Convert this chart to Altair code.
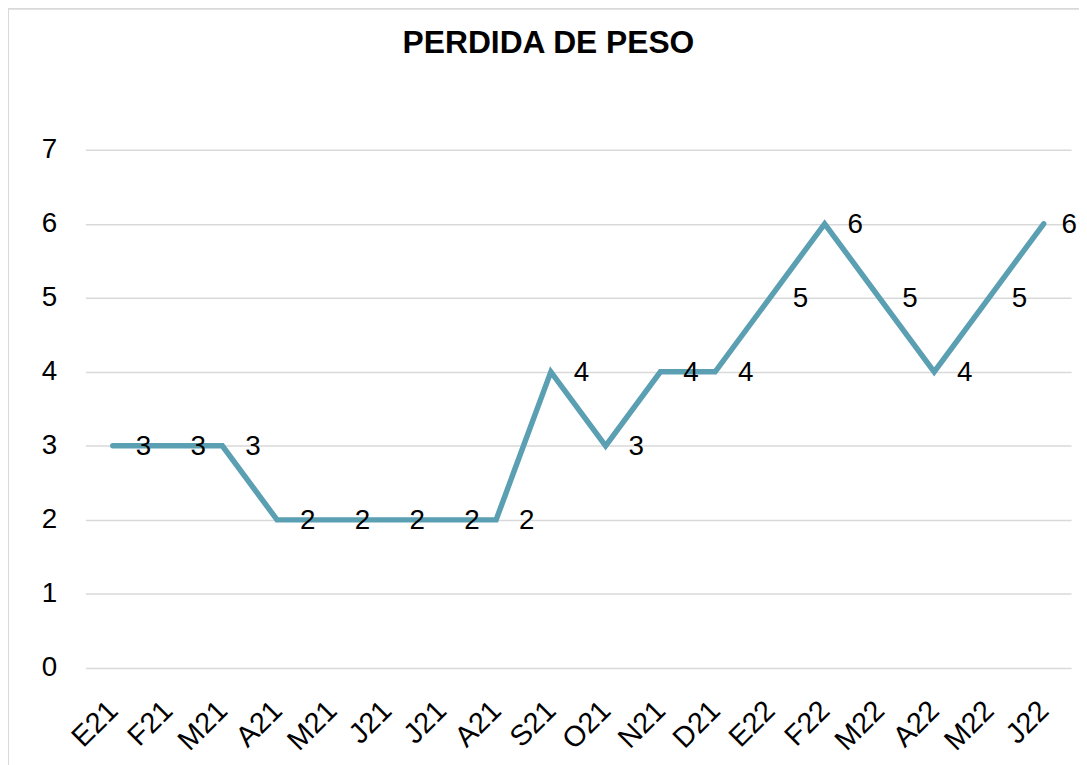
import altair as alt
import pandas as pd

months = ["E21", "F21", "M21", "A21", "M21", "J21", "J21", "A21", "S21",
          "O21", "N21", "D21", "E22", "F22", "M22", "A22", "M22", "J22"]
values = [3, 3, 3, 2, 2, 2, 2, 2, 4, 3, 4, 4, 5, 6, 5, 4, 5, 6]
y_ticks = [0, 1, 2, 3, 4, 5, 6, 7]

df = pd.DataFrame({"idx": list(range(len(months))), "mes": months, "valor": values})
label_expr = "[" + ",".join(f"'{m}'" for m in months) + "][datum.value]"
last = len(months) - 1

FONT = "Liberation Sans"
W, H = 993, 522
LINE = "#5b9fb3"

x_enc = alt.X("idx:O", scale=alt.Scale(padding=0.5),
              axis=alt.Axis(labelExpr=label_expr, labelAngle=-45, title=None,
                            domain=False, ticks=False, grid=False,
                            labelFontSize=29, labelFont=FONT, labelColor="#000",
                            labelPadding=28, labelOffset=-10))
y_enc = alt.Y("valor:Q", scale=alt.Scale(domain=[0, 7], nice=False),
              axis=alt.Axis(values=y_ticks, format="d", title=None, domain=False,
                            ticks=False, grid=True, gridColor="#d9d9d9", gridWidth=1.5,
                            labelFontSize=28, labelFont=FONT, labelColor="#000",
                            labelPadding=29))

line = alt.Chart(df).mark_line(color=LINE, strokeWidth=5.5, strokeCap="round",
                               strokeJoin="miter").encode(x=x_enc, y=y_enc)
text_style = dict(align="left", baseline="middle", dy=1, fontSize=28, font=FONT, color="#000")
labels = alt.Chart(df).transform_filter(f"datum.idx < {last}").mark_text(
    dx=23, **text_style).encode(x="idx:O", y="valor:Q", text="valor:Q")
labels_last = alt.Chart(df).transform_filter(f"datum.idx == {last}").mark_text(
    dx=18, **text_style).encode(x="idx:O", y="valor:Q", text="valor:Q")

border = alt.Chart(pd.DataFrame({"a": [0]})).mark_rect(
    fill=None, stroke="#d9d9d9", strokeWidth=2).encode(
    x=alt.value(-78), x2=alt.value(W + 60), y=alt.value(-142), y2=alt.value(H + 130))

chart = alt.layer(border, line, labels, labels_last).properties(
    width=W, height=H,
    title=alt.TitleParams("PERDIDA DE PESO", fontSize=32, fontWeight="bold", font=FONT,
                          color="#000", anchor="middle", baseline="alphabetic",
                          offset=0, dx=-30, dy=78),
    padding={"left": 78, "top": 140, "right": 8, "bottom": 95},
    autosize=alt.AutoSizeParams(type="none"),
).configure(background="white"
).configure_view(stroke="transparent", strokeWidth=0
).configure_axis(domain=False, ticks=False)

chart.save("out.html", embed_options={"renderer": "svg", "actions": False})
